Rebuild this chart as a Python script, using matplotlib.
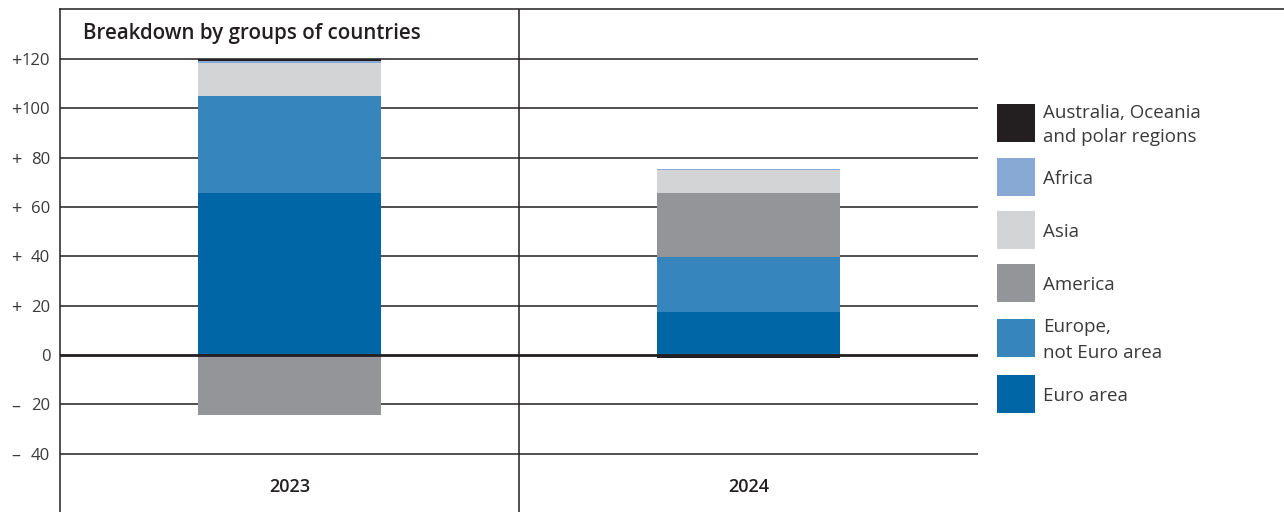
import matplotlib
matplotlib.use("Agg")
import matplotlib.pyplot as plt
import matplotlib.transforms as mtransforms
from matplotlib.patches import Rectangle
from matplotlib.lines import Line2D
import numpy as np

plt.rcParams['font.family'] = ['Open Sans', 'DejaVu Sans']

years = ["2023", "2024"]
series = ["Euro area", "Europe,\nnot Euro area", "America", "Asia", "Africa",
          "Australia, Oceania\nand polar regions"]
euro_area = [65.7, 17.6]
europe_not_euro = [39.3, 22.0]
america = [-24.5, 26.2]
asia = [13.5, 9.2]
africa = [0.8, 0.3]
australia = [0.8, -1.2]
colors = ["#0066a6", "#3785bd", "#939598", "#d3d4d6", "#88a9d3", "#231f20"]
yticks = [120, 100, 80, 60, 40, 20, 0, -20, -40]
title = "Breakdown by groups of countries"

values = [euro_area, europe_not_euro, america, asia, africa, australia]

W, H = 1284, 512
fig = plt.figure(figsize=(W / 100, H / 100), dpi=100)
ax = fig.add_axes([60 / W, 0, 918 / W, 503 / H])

y0_px, y120_px = 355, 59
scale = (y0_px - y120_px) / 120.0
ax.set_ylim((y0_px - 512) / scale, (y0_px - 9) / scale)
ax.set_xlim(-0.5, 1.5)

x = np.arange(len(years))
pos_base = np.zeros(len(years))
neg_base = np.zeros(len(years))
for vals, c in zip(values, colors):
    v = np.array(vals, dtype=float)
    bottoms = np.where(v >= 0, pos_base, neg_base)
    ax.bar(x, v, bottom=bottoms, width=0.4, color=c, edgecolor='none', zorder=2)
    pos_base = pos_base + np.where(v >= 0, v, 0)
    neg_base = neg_base + np.where(v < 0, v, 0)

for t in yticks:
    ax.axhline(t, color='#231f20', lw=2.0 if t == 0 else 1.1, zorder=3 if t == 0 else 1)

ax.axvline(0.5, color='#231f20', lw=1.1, zorder=1)

for s in ['top', 'right', 'bottom']:
    ax.spines[s].set_visible(False)
ax.spines['left'].set_color('#231f20')
ax.spines['left'].set_linewidth(1.1)

ax.set_xticks([])
ax.set_yticks(yticks)
ax.set_yticklabels([str(abs(t)) for t in yticks], fontsize=12, color='#3a3a3a')
ax.tick_params(axis='y', length=0, pad=7)

trans = mtransforms.blended_transform_factory(fig.transFigure, ax.transData)
for t in yticks:
    if t != 0:
        ax.text(16 / W, t, "+" if t > 0 else "\u2013", transform=trans,
                ha='center', va='center_baseline', fontsize=13, color='#3a3a3a')

for i, yr in enumerate(years):
    ax.text(i, (y0_px - 487) / scale, yr, ha='center', va='center',
            fontsize=13, fontweight='semibold', color='#231f20')

# top border line
fig.add_artist(Line2D([60 / W, 1], [1 - 9 / H, 1 - 9 / H], transform=fig.transFigure,
                      color='#231f20', lw=1.1))

fig.text(83 / W, 1 - 33 / H, title, ha='left', va='center', fontsize=14.8,
         fontweight='semibold', color='#231f20')

# legend
leg_tops = [104, 158, 211, 264, 319, 375]
leg_order = list(range(len(series)))[::-1]
for k, idx in enumerate(leg_order):
    top = leg_tops[k]
    fig.add_artist(Rectangle((997 / W, 1 - (top + 38) / H), 38 / W, 38 / H,
                             transform=fig.transFigure, color=colors[idx], lw=0))
    fig.text(1043 / W, 1 - (top + 21) / H, series[idx], ha='left', va='center',
             fontsize=13.5, color='#3a3a3a', linespacing=1.5)

fig.savefig("out.png", dpi=100)
